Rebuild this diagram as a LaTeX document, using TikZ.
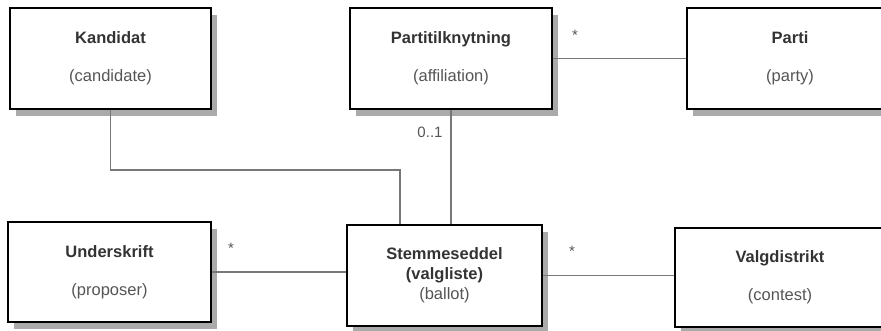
\documentclass[tikz,border=0pt]{standalone}
\usepackage{fontspec}
\setmainfont{Liberation Sans}
\usetikzlibrary{shadows}
\definecolor{linegray}{HTML}{777777}
\definecolor{shadegray}{HTML}{AAAAAA}
\definecolor{textgray}{HTML}{333333}
\definecolor{subgray}{HTML}{555555}
\tikzset{
  entity/.style={rectangle, draw=black, line width=2.2pt, fill=white, minimum width=201pt, minimum height=101pt,
    inner sep=0pt, align=center, font=\fontsize{16.5}{20}\selectfont, text=textgray,
    drop shadow={shadow xshift=6pt, shadow yshift=-7pt, fill=shadegray, opacity=1}},
  assoc/.style={linegray, line width=1.9pt},
  mult/.style={font=\fontsize{15}{18}\selectfont, text=subgray, inner sep=0pt}
}
\newcommand{\sub}[1]{{\color{subgray}#1}}

\begin{document}
\begin{tikzpicture}[x=1pt, y=-1pt]
  \clip (0,0) rectangle (881,330);
  % classes
  \node[entity] (kandidat) at (110.5,58.5) {\textbf{Kandidat}\\[18pt]\sub{(candidate)}};
  \node[entity, minimum width=202pt] (tilknytning) at (451,58.5) {\textbf{Partitilknytning}\\[18pt]\sub{(affiliation)}};
  \node[entity, minimum width=206pt] (parti) at (790,58.5) {\textbf{Parti}\\[18pt]\sub{(party)}};
  \node[entity, minimum width=203pt, minimum height=100pt] (underskrift) at (109.5,272) {\textbf{Underskrift}\\[18pt]\sub{(proposer)}};
  \node[entity, minimum width=195pt] (seddel) at (444.5,275.5) {\textbf{Stemmeseddel}\\\textbf{(valgliste)}\\\sub{(ballot)}};
  \node[entity, minimum width=210pt, minimum height=99pt] (distrikt) at (780,277.5) {\textbf{Valgdistrikt}\\[18pt]\sub{(contest)}};

  % associations
  \draw[assoc] (tilknytning.east) -- (parti.west);
  \draw[assoc] (tilknytning.south) -- (tilknytning.south |- seddel.north);
  \draw[assoc] (kandidat.south) -- ++(0,59.5) -| ([xshift=-44.5pt]seddel.north);
  \draw[assoc] (underskrift.east) -- (underskrift.east -| seddel.west);
  \draw[assoc] (seddel.east) -- (seddel.east -| distrikt.west);

  % multiplicities
  \node[mult] (m1) at (575,35) {*};
  \node[mult] (m2) at (430,132) {0..1};
  \node[mult] (m3) at (231,248) {*};
  \node[mult] (m4) at (572,251) {*};
\end{tikzpicture}
\end{document}
